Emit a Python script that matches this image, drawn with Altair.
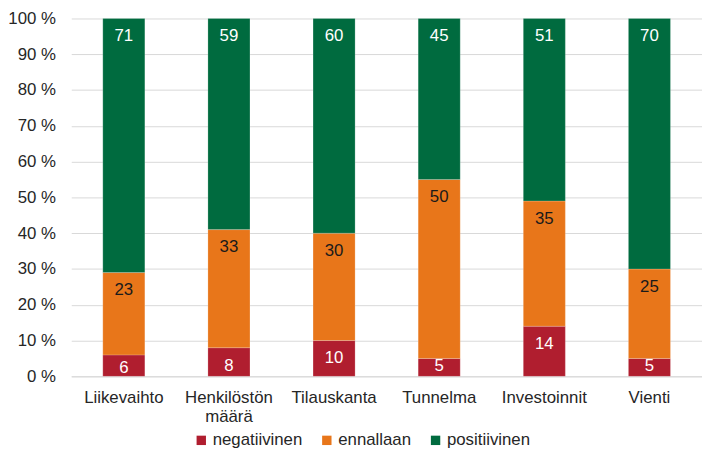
import altair as alt
import pandas as pd

categories = ["Liikevaihto", "Henkilöstön määrä", "Tilauskanta", "Tunnelma", "Investoinnit", "Vienti"]
series = ["negatiivinen", "ennallaan", "positiivinen"]
negatiivinen = [6, 8, 10, 5, 14, 5]
ennallaan = [23, 33, 30, 50, 35, 25]
positiivinen = [71, 59, 60, 45, 51, 70]
colors = ["#B01E2F", "#E8761A", "#006B3F"]
text_colors = ["#FFFFFF", "#1A1A1A", "#FFFFFF"]

rows = []
for i, c in enumerate(categories):
    start = 0
    for j, (s, vals) in enumerate(zip(series, [negatiivinen, ennallaan, positiivinen])):
        v = vals[i]
        end = start + v
        rows.append({
            "kategoria": c, "sarja": s, "arvo": v, "order": j,
            "y0": start, "y1": end,
            "lab": end - min(5.0, (v - 3.5) * 1.5),
            "tc": text_colors[j],
        })
        start = end
df = pd.DataFrame(rows)

FONT = "Liberation Sans"
FS = 17

y_axis = alt.Axis(values=list(range(0, 101, 10)), labelExpr="datum.value + ' %'",
                  labelFontSize=FS, labelColor="#262626", labelFont=FONT, ticks=False,
                  labelPadding=16, domain=False, grid=True, gridColor="#D9D9D9", gridWidth=1,
                  labelOverlap=False)
y_scale = alt.Scale(domain=[0, 100])

x = alt.X("kategoria:N", sort=categories, title=None,
          scale=alt.Scale(paddingInner=0.6, paddingOuter=0.3),
          axis=alt.Axis(labelAngle=0, labelFontSize=FS, labelColor="#262626", labelFont=FONT,
                        ticks=False, labelPadding=13, domainColor="#D9D9D9", grid=False,
                        labelLineHeight=20,
                        labelExpr="datum.label == 'Henkilöstön määrä' ? ['Henkilöstön', 'määrä'] : datum.label"))

bars = alt.Chart(df).mark_bar(stroke="#FFFFFF", strokeWidth=0.5, strokeOpacity=0.4).encode(
    x=x,
    y=alt.Y("y0:Q", title=None, scale=y_scale, axis=y_axis),
    y2="y1:Q",
    color=alt.Color("sarja:N", sort=series,
                    scale=alt.Scale(domain=series, range=colors),
                    legend=alt.Legend(title=None, orient="none", direction="horizontal",
                                      legendX=123, legendY=418, symbolType="square",
                                      symbolSize=90, symbolStrokeWidth=0, labelFontSize=FS,
                                      labelFont=FONT, labelColor="#262626", columnPadding=16,
                                      labelOffset=3)),
)

labels = alt.Chart(df).mark_text(fontSize=FS, font=FONT, baseline="middle", align="center").encode(
    x=x,
    y=alt.Y("lab:Q", title=None, scale=y_scale, axis=y_axis),
    text="arvo:Q",
    color=alt.Color("tc:N", scale=None),
)

chart = (bars + labels).properties(
    width=638, height=362,
    autosize=alt.AutoSizeParams(type="none"),
    padding={"left": 64, "top": 8, "right": 0, "bottom": 80},
).configure_view(stroke=None)

chart.save("out.html", embed_options={"renderer": "svg", "actions": False})
